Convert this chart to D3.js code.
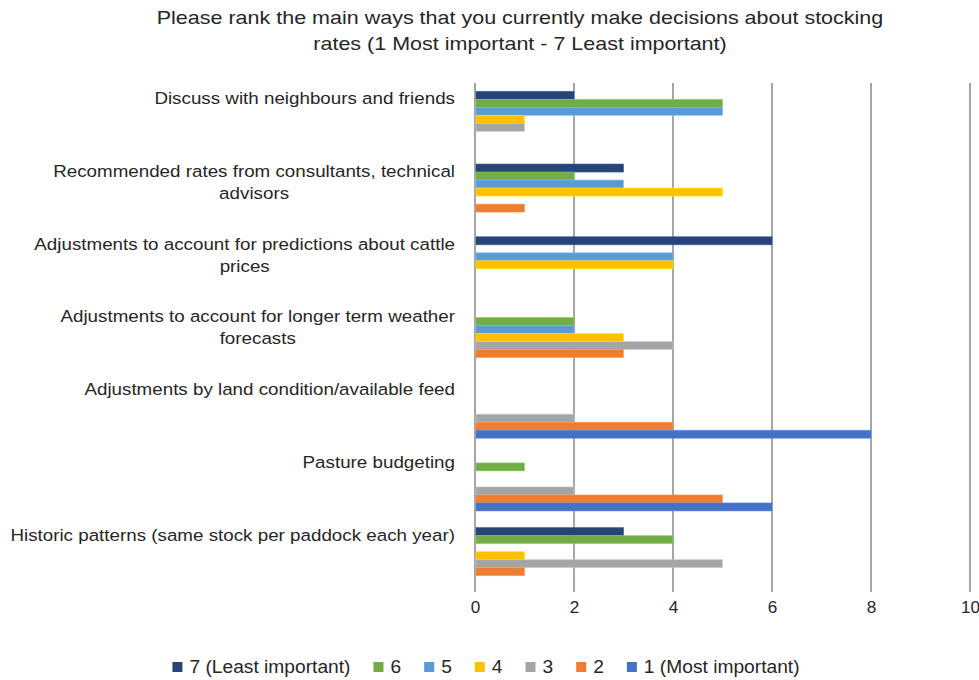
<!DOCTYPE html>
<html><head><meta charset="utf-8">
<script src="https://cdn.jsdelivr.net/npm/d3@7"></script>
<style>body{margin:0;background:#fff;} text{font-family:"Liberation Sans",Arial,sans-serif;}</style>
</head><body>
<svg id="chart" width="979" height="680"></svg>
<script>
const categories = [
  ["Discuss with neighbours and friends"],
  ["Recommended rates from consultants, technical", "advisors"],
  ["Adjustments to account for predictions about cattle", "prices"],
  ["Adjustments to account for longer term weather", "forecasts"],
  ["Adjustments by land condition/available feed"],
  ["Pasture budgeting"],
  ["Historic patterns (same stock per paddock each year)"]
];
const seriesNames = ["7 (Least important)", "6", "5", "4", "3", "2", "1 (Most important)"];
const seriesColors = ["#264478", "#70AD47", "#5B9BD5", "#FFC000", "#A5A5A5", "#ED7D31", "#4472C4"];
const rank7 = [2, 3, 6, 0, 0, 0, 3];
const rank6 = [5, 2, 0, 2, 0, 1, 4];
const rank5 = [5, 3, 4, 2, 0, 0, 0];
const rank4 = [1, 5, 4, 3, 0, 0, 1];
const rank3 = [1, 0, 0, 4, 2, 2, 5];
const rank2 = [0, 1, 0, 3, 4, 5, 1];
const rank1 = [0, 0, 0, 0, 8, 6, 0];
const seriesValues = [rank7, rank6, rank5, rank4, rank3, rank2, rank1];
const xTicks = [0, 2, 4, 6, 8, 10];
const titleLines = ["Please rank the main ways that you currently make decisions about stocking", "rates (1 Most important - 7 Least important)"];

(function () {
const svg = d3.select("#chart");
const pLeft = 475, pRight = 970, pTop = 83, pBottom = 592;
const ink = "#262626";
const x = d3.scaleLinear().domain([0, 10]).range([pLeft, pRight]);
const y0 = d3.scaleBand().domain(d3.range(categories.length)).range([pTop, pBottom]).paddingInner(0).paddingOuter(0);
const y1 = d3.scaleBand().domain(d3.range(seriesNames.length)).range([0, y0.bandwidth()]).paddingOuter(1.04).paddingInner(0);

function sText(parent, str, px, py, size, sx, anchor) {
  const g = parent.append("g").attr("transform", `translate(${px},${py}) scale(${sx},1)`);
  const t = g.append("text").attr("x", 0).attr("y", 0).attr("dy", "0.35em")
    .attr("font-size", size).attr("fill", ink).attr("text-anchor", anchor || "start").text(str);
  return {g, t, w: t.node().getComputedTextLength() * sx};
}

// title
titleLines.forEach((l, i) => sText(svg, l, 520, 18 + i * 26, 17.7, 1.215, "middle"));

// gridlines
svg.append("g").selectAll("line").data(xTicks).join("line")
  .attr("x1", d => x(d)).attr("x2", d => x(d)).attr("y1", pTop).attr("y2", pBottom)
  .attr("stroke", "#a6a6a6").attr("stroke-width", 2);

// x tick labels via axis
const xAxis = d3.axisBottom(x).tickValues(xTicks).tickSize(0).tickPadding(9);
const gx = svg.append("g").attr("transform", `translate(0,${pBottom})`).call(xAxis);
gx.select(".domain").remove();
gx.selectAll("text").attr("font-size", 16.3).attr("fill", ink)
  .attr("font-family", "Liberation Sans, Arial, sans-serif").attr("transform", "scale(1.05,1)");

// bars
const groups = svg.append("g").selectAll("g").data(categories).join("g")
  .attr("transform", (d, i) => `translate(0,${y0(i)})`);
groups.selectAll("rect").data((d, i) => seriesValues.map((s, k) => ({k, v: s[i]})).filter(e => e.v > 0)).join("rect")
  .attr("x", x(0) + 1).attr("y", e => y1(e.k))
  .attr("width", e => x(e.v) - x(0) - 1).attr("height", y1.bandwidth())
  .attr("fill", e => seriesColors[e.k])
  .attr("stroke", e => d3.color(seriesColors[e.k]).brighter(0.6)).attr("stroke-width", 0.8).attr("stroke-opacity", 0.7);

// category labels
const labelRight = 455, lblSize = 16.7, lblSx = 1.125;
categories.forEach((lines, i) => {
  const cy = y0(i) + y0.bandwidth() / 2 - 21;
  const g = svg.append("g");
  const items = lines.map((l, j) => sText(g, l, 0, cy + j * 22, lblSize, lblSx, "middle"));
  const maxW = Math.max(...items.map(d => d.w));
  items.forEach((it, j) => it.g.attr("transform", `translate(${labelRight - maxW / 2},${cy + j * 22}) scale(${lblSx},1)`));
});

// legend
const legend = svg.append("g");
const items = seriesNames.map((n, k) => {
  const g = legend.append("g");
  g.append("rect").attr("x", 0).attr("y", -5).attr("width", 10).attr("height", 10).attr("fill", seriesColors[k]);
  const s = sText(g, n, 17, 0, 17.7, 1.085, "start");
  return {g, w: 17 + s.w};
});
const gap = 23;
const total = d3.sum(items, d => d.w) + gap * (items.length - 1);
let cx = 486 - total / 2;
items.forEach(it => { it.g.attr("transform", `translate(${cx},667)`); cx += it.w + gap; });
})();
</script>
</body></html>
